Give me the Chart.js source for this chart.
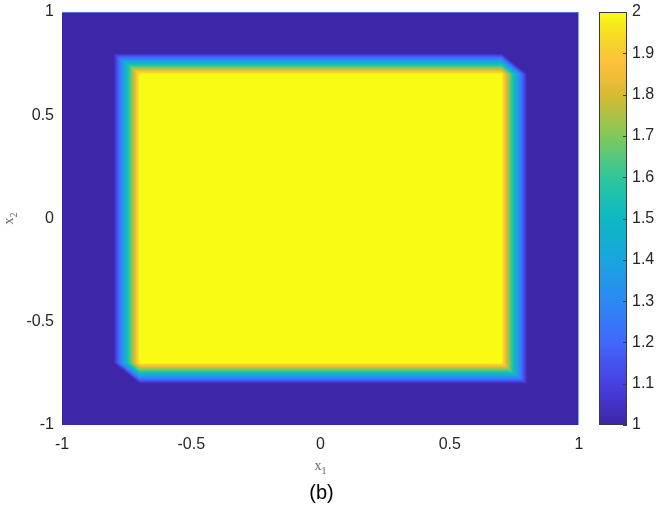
<!DOCTYPE html>
<html><head><meta charset="utf-8">
<script src="https://cdn.jsdelivr.net/npm/chart.js@4/dist/chart.umd.min.js"></script>
<style>html,body{margin:0;padding:0;background:#fff;}#wrap{width:661px;height:508px;}</style>
</head><body><div id="wrap"><canvas id="c" width="661" height="508"></canvas></div>
<script>
// ---- data: nodal values on a triangulated grid (x1 left->right, x2 top->bottom) ----
const xNodes = [-1,-0.9,-0.8,-0.7,-0.6,-0.5,-0.4,-0.3,-0.2,-0.1,0,0.1,0.2,0.3,0.4,0.5,0.6,0.7,0.8,0.9,1];
const yNodes = [1,0.9,0.8,0.7,0.6,0.5,0.4,0.3,0.2,0.1,0,-0.1,-0.2,-0.3,-0.4,-0.5,-0.6,-0.7,-0.8,-0.9,-1];
const zRows = [
  "111111111111111111111",
  "111111111111111111111",
  "111111111111111111111",
  "111222222222222222111",
  "111222222222222222111",
  "111222222222222222111",
  "111222222222222222111",
  "111222222222222222111",
  "111222222222222222111",
  "111222222222222222111",
  "111222222222222222111",
  "111222222222222222111",
  "111222222222222222111",
  "111222222222222222111",
  "111222222222222222111",
  "111222222222222222111",
  "111222222222222222111",
  "111222222222222222111",
  "111111111111111111111",
  "111111111111111111111",
  "111111111111111111111"
];
const xTicks = [-1,-0.5,0,0.5,1];
const yTicks = [-1,-0.5,0,0.5,1];
const cbTicks = [1,1.1,1.2,1.3,1.4,1.5,1.6,1.7,1.8,1.9,2];
const cbLabels = ['1','1.1','1.2','1.3','1.4','1.5','1.6','1.7','1.8','1.9','2'];
const zMin = 1, zMax = 2;
const xLabel = 'x', xSub = '1', yLabel = 'x', ySub = '2', caption = '(b)';

// ---- colormap (parula-like) ----
const parulaStops = [
  [0.00,62,38,168],[0.10,71,64,226],[0.20,66,104,252],[0.30,44,138,244],
  [0.40,26,165,222],[0.50,12,186,194],[0.60,46,199,156],[0.70,130,202,90],
  [0.80,218,186,50],[0.875,254,192,60],[0.93,246,214,40],[1.00,249,251,20]
];
function cmap(t){
  t = Math.max(0, Math.min(1, t));
  for (let k=1;k<parulaStops.length;k++){
    const a=parulaStops[k-1], b=parulaStops[k];
    if (t<=b[0]){ const f=(t-a[0])/(b[0]-a[0]);
      return [a[1]+(b[1]-a[1])*f, a[2]+(b[2]-a[2])*f, a[3]+(b[3]-a[3])*f]; }
  }
  const l=parulaStops[parulaStops.length-1]; return [l[1],l[2],l[3]];
}
const Z = zRows.map(r => r.split('').map(Number));
function findCell(arr, v, asc){
  const n = arr.length-1;
  for (let i=0;i<n;i++){
    const a=arr[i], b=arr[i+1];
    if (asc ? (v>=a && v<=b) : (v<=a && v>=b)) return i;
  }
  return asc ? (v<arr[0]?0:n-1) : (v>arr[0]?0:n-1);
}
function interp(x, y){
  const i = findCell(xNodes, x, true), j = findCell(yNodes, y, false);
  let u = (x - xNodes[i])/(xNodes[i+1]-xNodes[i]);
  let v = (yNodes[j] - y)/(yNodes[j]-yNodes[j+1]);
  u = Math.max(0,Math.min(1,u)); v = Math.max(0,Math.min(1,v));
  const TL=Z[j][i], TR=Z[j][i+1], BL=Z[j+1][i], BR=Z[j+1][i+1];
  if (u >= v) return TL + (TR-TL)*u + (BR-TR)*v;
  return TL + (BL-TL)*v + (BR-BL)*u;
}

const tickFont = {family:"'Liberation Sans', Arial, sans-serif", size:16};
const tickColor = '#262626';

const heatPlugin = {
  id:'heat',
  beforeDatasetsDraw(chart){
    const ctx = chart.ctx, ca = chart.chartArea;
    const xs = chart.scales.x, ys = chart.scales.y, cb = chart.scales.y2;
    const w = Math.round(ca.right-ca.left), h = Math.round(ca.bottom-ca.top);
    const off = document.createElement('canvas'); off.width=w; off.height=h;
    const octx = off.getContext('2d'); const img = octx.createImageData(w,h);
    for (let py=0; py<h; py++){
      const yv = ys.getValueForPixel(ca.top+py+0.5);
      for (let px=0; px<w; px++){
        const xv = xs.getValueForPixel(ca.left+px+0.5);
        const c = cmap((interp(xv,yv)-zMin)/(zMax-zMin));
        const o = (py*w+px)*4;
        img.data[o]=c[0]; img.data[o+1]=c[1]; img.data[o+2]=c[2]; img.data[o+3]=255;
      }
    }
    octx.putImageData(img,0,0);
    ctx.save();
    ctx.drawImage(off, ca.left, ca.top);
    // light edge along x1 = 1 and x2 = 1
    ctx.strokeStyle = 'rgba(120,190,240,0.9)'; ctx.lineWidth = 1;
    const xr = xs.getPixelForValue(1), yt = ys.getPixelForValue(1);
    ctx.beginPath(); ctx.moveTo(xr-0.5, ca.top); ctx.lineTo(xr-0.5, ca.bottom); ctx.stroke();
    ctx.strokeStyle = 'rgba(120,190,240,0.5)';
    ctx.beginPath(); ctx.moveTo(ca.left, yt+0.5); ctx.lineTo(ca.right, yt+0.5); ctx.stroke();
    // colorbar
    const cx0 = ca.right + 20, cw = 28;
    const ctop = cb.getPixelForValue(zMax), cbot = cb.getPixelForValue(zMin);
    for (let py=Math.floor(ctop); py<Math.ceil(cbot); py++){
      const val = cb.getValueForPixel(py+0.5);
      const c = cmap((val-zMin)/(zMax-zMin));
      ctx.fillStyle = `rgb(${c[0]|0},${c[1]|0},${c[2]|0})`;
      ctx.fillRect(cx0, py, cw, 1);
    }
    ctx.strokeStyle = '#3a3a3a'; ctx.lineWidth = 1;
    ctx.strokeRect(cx0+0.5, Math.round(ctop)+0.5, cw-1, Math.round(cbot-ctop)-1);
    ctx.beginPath();
    cbTicks.forEach(t => { const p = Math.round(cb.getPixelForValue(t))+0.5;
      ctx.moveTo(cx0+cw-4, p); ctx.lineTo(cx0+cw, p); });
    ctx.stroke();
    ctx.restore();
  },
  afterDraw(chart){
    const ctx = chart.ctx, ca = chart.chartArea;
    ctx.save();
    ctx.fillStyle = '#6a6a6a';
    const cxm = (ca.left+ca.right)/2;
    ctx.textBaseline = 'alphabetic';
    const big = "14px 'Liberation Serif', 'DejaVu Serif', serif";
    const small = "10px 'Liberation Serif', 'DejaVu Serif', serif";
    ctx.font = big; const wx = ctx.measureText(xLabel).width;
    ctx.font = small; const ws = ctx.measureText(xSub).width;
    let sx = cxm - (wx+ws)/2;
    ctx.font = big; ctx.fillText(xLabel, sx, 470);
    ctx.font = small; ctx.fillText(xSub, sx+wx, 474);
    ctx.translate(13, (ca.top+ca.bottom)/2);
    ctx.rotate(-Math.PI/2);
    ctx.font = big; const wy = ctx.measureText(yLabel).width;
    ctx.font = small; const wys = ctx.measureText(ySub).width;
    sx = -(wy+wys)/2;
    ctx.font = big; ctx.fillText(yLabel, sx, 0);
    ctx.font = small; ctx.fillText(ySub, sx+wy, 4);
    ctx.restore();
    ctx.save();
    ctx.fillStyle = '#000';
    ctx.font = "20px 'Liberation Sans', Arial, sans-serif";
    ctx.textAlign = 'center'; ctx.textBaseline = 'middle';
    ctx.fillText(caption, cxm+1, 493);
    ctx.restore();
  }
};

new Chart(document.getElementById('c'), {
  type:'scatter',
  data:{datasets:[{data:[], pointRadius:0}]},
  options:{
    responsive:false, animation:false, devicePixelRatio:1,
    layout:{padding:{top:12,left:0,right:0,bottom:0}},
    plugins:{legend:{display:false}, tooltip:{enabled:false}, title:{display:false}},
    scales:{
      x:{type:'linear', min:-1, max:1,
        afterBuildTicks:s=>{s.ticks = xTicks.map(v=>({value:v}));},
        afterFit:s=>{s.height=83; s.paddingLeft=0; s.paddingRight=0;},
        grid:{display:false, drawTicks:false}, border:{display:false},
        ticks:{padding:10, font:tickFont, color:tickColor, maxRotation:0, autoSkip:false,
          callback:(v,i)=>String(xTicks[i])}},
      y:{type:'linear', min:-1, max:1,
        afterBuildTicks:s=>{s.ticks = yTicks.map(v=>({value:v}));},
        afterFit:s=>{s.width=62; s.paddingTop=0; s.paddingBottom=0;},
        grid:{display:false, drawTicks:false}, border:{display:false},
        ticks:{padding:8, font:tickFont, color:tickColor, autoSkip:false,
          callback:(v,i)=>String(yTicks[i])}},
      y2:{type:'linear', position:'right', min:zMin, max:zMax,
        afterBuildTicks:s=>{s.ticks = cbTicks.map(v=>({value:v}));},
        afterFit:s=>{s.width=82; s.paddingTop=0; s.paddingBottom=0;},
        grid:{display:false, drawTicks:false}, border:{display:false},
        ticks:{padding:53, font:tickFont, color:tickColor, autoSkip:false,
          callback:(v,i)=>cbLabels[i]}}
    }
  },
  plugins:[heatPlugin]
});
</script></body></html>
